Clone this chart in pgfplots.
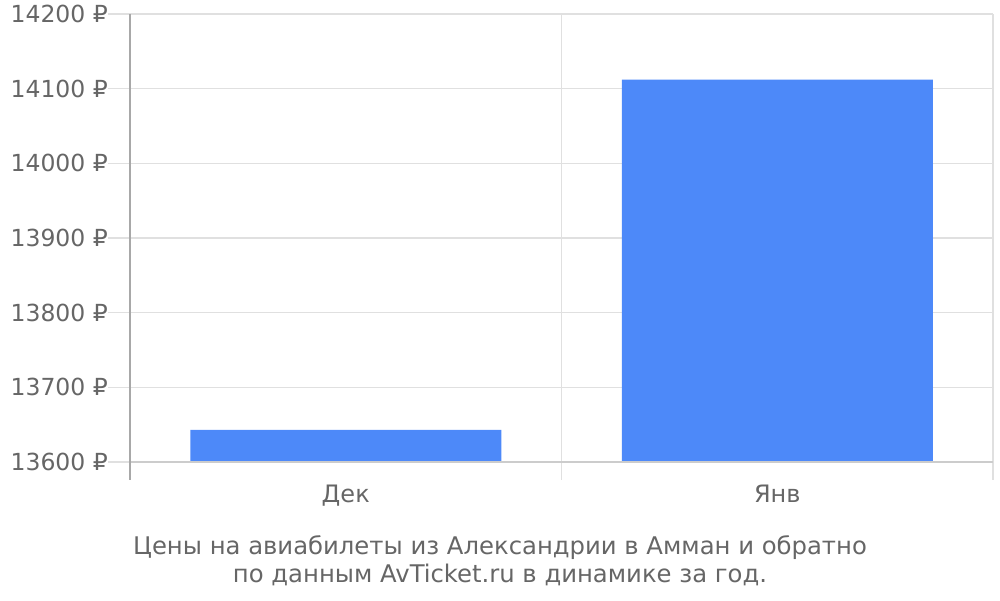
\documentclass[border=0pt]{standalone}
\usepackage{fontspec}
\setmainfont{DejaVu Sans}
\usepackage{pgfplots}
\pgfplotsset{compat=1.18}
\definecolor{barblue}{HTML}{4D89F9}
\definecolor{txt}{HTML}{666666}
\definecolor{gridc}{HTML}{E0E0E0}
\definecolor{axisc}{HTML}{A8A8A8}
\definecolor{basec}{HTML}{CCCCCC}
\begin{document}
\begin{tikzpicture}[x=1pt,y=1pt]
\path[use as bounding box] (0,0) rectangle (1000,600);
\begin{axis}[
  at={(130pt,138pt)}, anchor=south west,
  scale only axis, width=863pt, height=448pt,
  xmin=0, xmax=2, ymin=13600, ymax=14200,
  axis line style={draw=none},
  tick style={draw=none},
  ytick={13600,13700,...,14200},
  scaled y ticks=false,
  ymajorgrids=true,
  major grid style={gridc, line width=1.2pt},
  xtick={0.5,1.5}, xticklabels={Дек,Янв},
  extra x ticks={0,1,2}, extra x tick labels={},
  extra x tick style={xmajorgrids=true},
  /pgf/number format/assume math mode=true,
  /pgf/number format/1000 sep={},
  yticklabel={\pgfmathprintnumber{\tick}~₽},
  yticklabel style={anchor=east, inner sep=0pt, xshift=-22pt, font=\fontsize{23.5}{28}\selectfont, text=txt},
  xticklabel style={anchor=north, inner sep=0pt, yshift=-23pt, font=\fontsize{24}{28}\selectfont, text=txt},
  clip=true,
]
\addplot[ybar, bar width=311pt, bar shift=0pt, fill=barblue, draw=none] coordinates {(0.5,13643) (1.5,14112)};
\end{axis}
% grid extensions
\foreach \yy in {138,212.67,287.33,362,436.67,511.33,586} {
  \draw[gridc, line width=1.2pt] (108,\yy) -- (130,\yy);
}
\draw[gridc, line width=1.2pt] (561.5,138) -- (561.5,120);
\draw[gridc, line width=1.2pt] (993,138) -- (993,120);
\draw[basec, line width=1.2pt] (130,138) -- (993,138);
\draw[axisc, line width=1.3pt] (130,586) -- (130,120);
\node[align=center, text=txt, font=\fontsize{24.3}{28}\selectfont] at (500,39) {Цены на авиабилеты из Александрии в Амман и обратно\\по данным AvTicket.ru в динамике за год.};
\end{tikzpicture}
\end{document}
